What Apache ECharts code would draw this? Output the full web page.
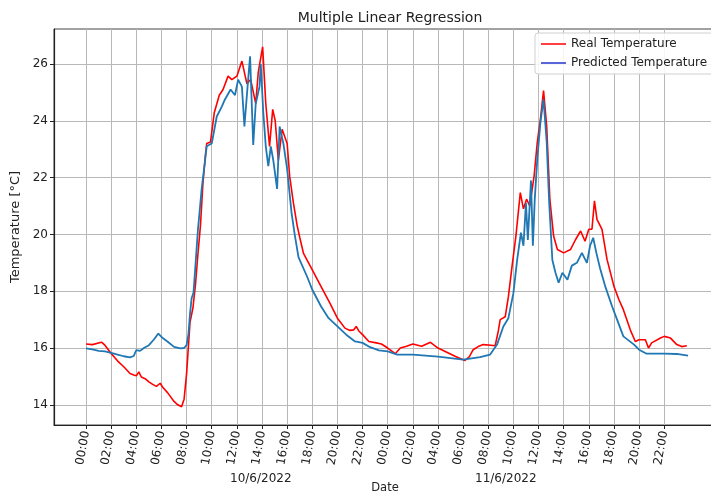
<!DOCTYPE html>
<html>
<head>
<meta charset="utf-8">
<script src="https://cdn.jsdelivr.net/npm/echarts@6/dist/echarts.min.js"></script>
<style>
  html, body { margin: 0; padding: 0; background: #fff; }
  #chart { width: 711px; height: 493px; }
</style>
</head>
<body>
<div id="chart"></div>
<script>
// hours since 10/6/2022 00:00
var realHours = [0, 0.5, 1.0, 1.25, 1.5, 2.0, 2.5, 3.0, 3.5, 3.8, 4.0, 4.2, 4.4, 4.7, 5.0, 5.3, 5.6, 5.9, 6.1, 6.5,
  7.0, 7.3, 7.6, 7.8, 8.0, 8.27, 8.5, 8.7, 8.9, 9.1, 9.3, 9.5, 9.6, 9.9, 10.2, 10.6, 10.9, 11.3, 11.6, 12.0,
  12.4, 12.5, 12.8, 13.1, 13.5, 13.7, 14.05, 14.3, 14.6, 14.85, 15.05, 15.3, 15.6, 16.0, 16.2, 16.5, 16.8, 17.0, 17.3, 18.0,
  18.7, 19.4, 20.0, 20.6, 21.0, 21.3, 21.5, 21.7, 22.0, 22.5, 23.1, 23.5, 24.0, 24.6, 25.0, 25.5, 26.0, 26.7, 27.4, 28.0,
  28.7, 29.4, 30.15, 30.5, 30.8, 31.2, 31.6, 32.2, 32.55, 32.8, 32.95, 33.35, 33.6, 33.9, 34.2, 34.55, 34.8, 35.05, 35.3, 35.65,
  35.9, 36.15, 36.4, 36.65, 36.9, 37.2, 37.5, 38.0, 38.55, 38.95, 39.35, 39.7, 40.0, 40.25, 40.45, 40.65, 41.05, 41.45, 42.0, 42.4,
  42.75, 43.3, 43.7, 44.0, 44.5, 44.75, 45.0, 45.7, 46.0, 46.5, 47.0, 47.4, 47.8]
var realTemp = [16.14, 16.12, 16.18, 16.2, 16.1, 15.81, 15.55, 15.34, 15.1, 15.05, 15.02, 15.16, 14.98, 14.92, 14.81, 14.72, 14.65, 14.76, 14.62, 14.42,
  14.12, 14.0, 13.93, 14.2, 15.1, 16.9, 17.4, 18.2, 19.3, 20.3, 21.8, 22.8, 23.2, 23.25, 24.28, 24.9, 25.1, 25.57, 25.45, 25.57,
  26.1, 26.15, 25.3, 25.45, 24.6, 25.7, 26.6, 24.6, 23.1, 24.4, 24.0, 22.6, 23.7, 23.2, 22.05, 21.1, 20.3, 19.9, 19.33, 18.75,
  18.16, 17.58, 17.05, 16.7, 16.62, 16.64, 16.76, 16.6, 16.47, 16.23, 16.18, 16.14, 16.0, 15.8, 16.0, 16.06, 16.14, 16.06, 16.2, 16.0,
  15.85, 15.7, 15.56, 15.7, 15.94, 16.05, 16.12, 16.1, 16.08, 16.6, 17.0, 17.1, 17.8, 18.9, 19.94, 21.47, 20.9, 21.24, 21.0, 22.06,
  23.24, 24.06, 25.06, 23.8, 21.24, 19.94, 19.47, 19.35, 19.47, 19.82, 20.12, 19.76, 20.18, 20.18, 21.18, 20.53, 20.18, 19.12, 18.17, 17.7,
  17.35, 16.64, 16.23, 16.29, 16.29, 16.0, 16.18, 16.35, 16.41, 16.35, 16.12, 16.05, 16.08]

var predHours = [0, 0.5, 1.0, 1.5, 2.0, 2.5, 3.0, 3.5, 3.8, 4.0, 4.3, 4.6, 5.0, 5.4, 5.75, 6.1, 6.5, 7.0, 7.5, 7.8,
  8.0, 8.15, 8.27, 8.4, 8.55, 8.75, 8.9, 9.2, 9.6, 10.0, 10.4, 10.8, 11.05, 11.5, 11.85, 12.1, 12.4, 12.6, 12.85, 13.05,
  13.3, 13.5, 13.8, 13.9, 14.1, 14.3, 14.5, 14.7, 14.9, 15.2, 15.4, 15.7, 16.0, 16.35, 16.6, 16.9, 17.6, 18.0, 18.7, 19.3,
  20.0, 20.7, 21.4, 22.0, 22.6, 23.3, 24.0, 24.75, 26.0, 28.0, 30.0, 31.35, 32.15, 32.7, 33.2, 33.6, 34.0, 34.3, 34.6, 34.8,
  35.0, 35.15, 35.4, 35.55, 35.7, 35.9, 36.15, 36.4, 36.65, 36.85, 37.1, 37.35, 37.6, 37.9, 38.3, 38.65, 39.05, 39.45, 39.85, 40.1,
  40.35, 40.6, 40.9, 41.3, 41.85, 42.25, 42.75, 43.6, 44.0, 44.6, 46.0, 47.0, 47.9]
var predTemp = [15.99, 15.95, 15.9, 15.88, 15.83, 15.77, 15.71, 15.67, 15.72, 15.93, 15.9, 16.0, 16.1, 16.3, 16.51, 16.35, 16.22, 16.04, 15.99, 16.0,
  16.1, 16.5, 17.2, 17.75, 17.95, 19.2, 20.15, 21.6, 23.1, 23.2, 24.15, 24.5, 24.75, 25.1, 24.9, 25.45, 25.2, 23.8, 25.2, 26.27,
  23.15, 24.6, 25.2, 26.0, 24.3, 23.1, 22.4, 23.1, 22.6, 21.6, 23.8, 23.2, 22.3, 20.76, 20.0, 19.2, 18.5, 18.05, 17.46, 17.05,
  16.76, 16.47, 16.23, 16.18, 16.03, 15.92, 15.88, 15.77, 15.77, 15.7, 15.59, 15.68, 15.77, 16.12, 16.76, 17.05, 17.93, 19.1, 20.06, 19.6,
  21.1, 19.8, 21.9, 19.6, 21.24, 22.65, 23.94, 24.75, 23.24, 21.1, 19.1, 18.65, 18.3, 18.65, 18.4, 18.9, 19.0, 19.35, 19.0, 19.6,
  19.88, 19.35, 18.8, 18.18, 17.47, 17.0, 16.41, 16.12, 15.94, 15.8, 15.8, 15.79, 15.73]

var tickHours = [0, 2, 4, 6, 8, 10, 12, 14, 16, 18, 20, 22, 24, 26, 28, 30, 32, 34, 36, 38, 40, 42, 44, 46]
var tempTicks = [14, 16, 18, 20, 22, 24, 26]
var dayLabels = ['10/6/2022', '11/6/2022']

function pairs(xs, ys) {
  return xs.map(function (x, i) { return [x, ys[i]] })
}

var font = 'DejaVu Sans'
var chart = echarts.init(document.getElementById('chart'))

chart.setOption({
  animation: false,
  textStyle: { fontFamily: font },
  title: {
    text: 'Multiple Linear Regression',
    left: 385,
    top: 6,
    textAlign: 'center',
    textStyle: { fontFamily: font, fontSize: 14, fontWeight: 'normal', color: '#222' }
  },
  grid: {
    left: 54,
    top: 29,
    width: 662,
    height: 396,
    outerBoundsMode: 'none',
    show: true,
    borderColor: '#444',
    borderWidth: 1
  },
  legend: {
    orient: 'vertical',
    left: 535,
    top: 33,
    icon: 'rect',
    itemWidth: 25,
    itemHeight: 1.5,
    itemGap: 7,
    padding: [5, 10, 5, 6],
    backgroundColor: 'rgba(255,255,255,0.85)',
    borderColor: '#d0d0d0',
    borderWidth: 1,
    borderRadius: 3,
    textStyle: { fontFamily: font, fontSize: 12, color: '#222' },
    data: [
      { name: 'Real Temperature', itemStyle: { color: '#ff0000' } },
      { name: 'Predicted Temperature', itemStyle: { color: '#2233cc' } }
    ]
  },
  xAxis: {
    type: 'value',
    min: -2.55,
    max: 50.12,
    name: 'Date',
    nameLocation: 'middle',
    nameGap: 57,
    nameTextStyle: { fontFamily: font, fontSize: 11.5, color: '#222' },
    axisLine: { onZero: false, lineStyle: { color: '#222', width: 1.2 } },
    axisTick: { customValues: tickHours, length: 4, lineStyle: { color: '#222' } },
    axisLabel: {
      customValues: tickHours,
      rotate: 80,
      margin: 6,
      fontSize: 12,
      color: '#222',
      fontFamily: font,
      formatter: function (v) {
        var h = ((v % 24) + 24) % 24
        return (h < 10 ? '0' : '') + h + ':00'
      }
    },
    splitLine: { show: true, lineStyle: { color: '#b8b8b8', width: 1 } }
  },
  yAxis: {
    type: 'value',
    min: 13.29,
    max: 27.23,
    name: 'Temperature [°C]',
    nameLocation: 'middle',
    nameGap: 29,
    nameTextStyle: { fontFamily: font, fontSize: 13, color: '#222' },
    axisLine: { show: true, onZero: false, lineStyle: { color: '#222', width: 1.2 } },
    axisTick: { show: true, customValues: tempTicks, length: 4, lineStyle: { color: '#222' } },
    axisLabel: { customValues: tempTicks, fontSize: 12, color: '#222', fontFamily: font, margin: 6 },
    splitLine: { show: true, lineStyle: { color: '#b8b8b8', width: 1 } }
  },
  graphic: [
    { type: 'text', left: 230, top: 473, style: { text: dayLabels[0], fontFamily: font, fontSize: 12, fill: '#222' } },
    { type: 'text', left: 475, top: 473, style: { text: dayLabels[1], fontFamily: font, fontSize: 12, fill: '#222' } }
  ],
  series: [
    {
      name: 'Real Temperature',
      type: 'line',
      showSymbol: false,
      color: '#ff0000',
      lineStyle: { color: '#ff0000', width: 1.6 },
      data: pairs(realHours, realTemp)
    },
    {
      name: 'Predicted Temperature',
      type: 'line',
      showSymbol: false,
      color: '#1f77b4',
      lineStyle: { color: '#1f77b4', width: 1.8 },
      data: pairs(predHours, predTemp)
    }
  ]
})
</script>
</body>
</html>
